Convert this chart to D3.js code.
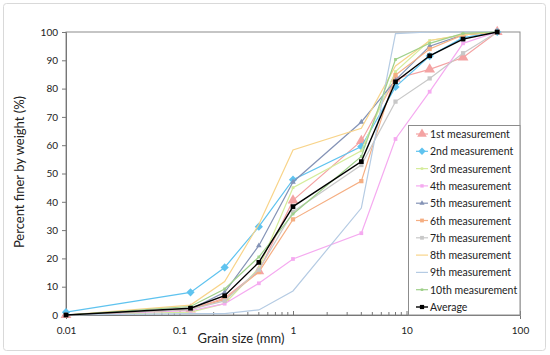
<!DOCTYPE html>
<html>
<head>
<meta charset="utf-8">
<script src="https://cdn.jsdelivr.net/npm/d3@7"></script>
<style>
  body { margin: 0; background: #fff; }
  text { font-family: Lato, "Open Sans", sans-serif; fill: #222; }
</style>
</head>
<body>
<svg width="550" height="355"></svg>
<script>
// sieve sizes (mm)
const sizes = [0.01, 0.125, 0.25, 0.5, 1, 4, 8, 16, 31.5, 63];

const names = ["1st measurement", "2nd measurement", "3rd measurement", "4th measurement",
  "5th measurement", "6th measurement", "7th measurement", "8th measurement",
  "9th measurement", "10th measurement", "Average"];

const m1  = [0, 2,   6,    15.5, 40.5, 61.5, 83.5, 86.8, 91,   100];
const m2  = [1, 8,   16.8, 31.2, 47.8, 59.5, 80.6, 91.5, 98,   100];
const m3  = [0, 1,   4,    16.5, 45,   58,   86,   97,   99,   100];
const m4  = [0, 1.5, 4,    11.2, 19.8, 28.9, 62.2, 78.9, 96,   100];
const m5  = [0, 2,   8,    24.5, 47,   68.2, 83,   95,   99,   100];
const m6  = [0, 2,   5.5,  15.2, 33.8, 47.3, 84.8, 94,   99,   100];
const m7  = [0, 2,   5,    16,   36.5, 53,   75.4, 83.6, 92.5, 100];
const m8  = [0, 3.5, 11.8, 32,   58.3, 66,   88,   97,   99,   100];
const m9  = [0, 0.5, 0.5,  1.8,  8.5,  37.8, 99.4, 100,  100,  100];
const m10 = [0, 3,   9.2,  20.5, 35.7, 56,   90.3, 96,   99.5, 100];
const avg = [0, 2.4, 6.8,  18.6, 38.3, 54.2, 82.4, 91.6, 97.5, 100];

const values = [m1, m2, m3, m4, m5, m6, m7, m8, m9, m10, avg];
const colors = ["#f4a3a3", "#5fc3ef", "#d5ec9b", "#f5aaf0", "#8493b6", "#f5ae82",
  "#c8c8c8", "#f8d48a", "#b5cbe3", "#9fd08a", "#000000"];
// symbol, size, rotation
const marks = [
  [d3.symbolTriangle, 50, 0], [d3.symbolSquare, 34, 45], [d3.symbolSquare, 8, 0],
  [d3.symbolSquare, 14, 0], [d3.symbolTriangle, 14, 0], [d3.symbolSquare, 18, 0],
  [d3.symbolSquare, 18, 0], [null, 0, 0], [null, 0, 0], [d3.symbolSquare, 8, 0],
  [d3.symbolSquare, 22, 0]];

const yTicks = d3.range(0, 101, 10);
const xTicks = [0.01, 0.1, 1, 10, 100];

const svg = d3.select("svg");
const margin = {left: 66, top: 32, right: 30, bottom: 40};
const W = 550, H = 355;

svg.append("rect")
  .attr("x", 3.5).attr("y", 3.5).attr("width", 542).attr("height", 347)
  .attr("rx", 3).attr("fill", "#fff").attr("stroke", "#d9d9d9");

const x = d3.scaleLog().domain([0.01, 100]).range([margin.left, W - margin.right]);
const y = d3.scaleLinear().domain([0, 100]).range([H - margin.bottom, margin.top]);

// plot box
svg.append("rect")
  .attr("x", x(0.01)).attr("y", y(100))
  .attr("width", x(100) - x(0.01)).attr("height", y(0) - y(100))
  .attr("fill", "none").attr("stroke", "#8c8c8c");

// y axis
svg.append("g")
  .attr("transform", `translate(${x(0.01)},0)`)
  .call(d3.axisLeft(y).tickValues(yTicks).tickSize(4).tickPadding(4))
  .call(g => g.select(".domain").attr("stroke", "#777"))
  .call(g => g.selectAll(".tick line").attr("stroke", "#777"))
  .call(g => g.selectAll("text").attr("font-size", 10).attr("font-family", "Lato, sans-serif"));

// x axis with minor ticks
const minor = [];
for (let d = 0.01; d < 100; d *= 10) for (let k = 2; k < 10; k++) minor.push(d * k);
svg.append("g")
  .attr("transform", `translate(0,${y(0)})`)
  .selectAll("line").data(minor).join("line")
  .attr("x1", d => x(d)).attr("x2", d => x(d))
  .attr("y1", 0).attr("y2", -3).attr("stroke", "#777");

svg.append("g")
  .attr("transform", `translate(0,${y(0)})`)
  .call(d3.axisBottom(x).tickValues(xTicks).tickFormat(d3.format("~g")).tickSize(4).tickPadding(8))
  .call(g => g.select(".domain").attr("stroke", "#777"))
  .call(g => g.selectAll(".tick line").attr("y2", -4).attr("stroke", "#777"))
  .call(g => g.selectAll("text").attr("font-size", 10).attr("font-family", "Lato, sans-serif"));

// axis titles
svg.append("text")
  .attr("x", 241).attr("y", 343).attr("text-anchor", "middle")
  .attr("font-size", 13).text("Grain size (mm)");
svg.append("text")
  .attr("transform", "translate(24,172) rotate(-90)").attr("text-anchor", "middle")
  .attr("font-size", 13).text("Percent finer by weight (%)");

const line = d3.line().x((d, i) => x(sizes[i])).y(d => y(d));

// series, average drawn last
values.forEach((vals, s) => {
  const g = svg.append("g");
  g.append("path").datum(vals)
    .attr("d", line).attr("fill", "none")
    .attr("stroke", colors[s]).attr("stroke-width", s === 10 ? 1.4 : 1.2);
  if (marks[s][0]) {
    g.selectAll("path.pt").data(vals).join("path").attr("class", "pt")
      .attr("transform", (d, i) => `translate(${x(sizes[i])},${y(d)}) rotate(${marks[s][2]})`)
      .attr("d", d3.symbol(marks[s][0], marks[s][1]))
      .attr("fill", colors[s]);
  }
});

// legend
const lg = svg.append("g");
lg.append("rect")
  .attr("x", 408.5).attr("y", 125.5).attr("width", x(100) - 408.5).attr("height", y(0) - 125.5)
  .attr("fill", "#fff").attr("stroke", "#8c8c8c");
names.forEach((n, s) => {
  const ly = 134 + s * 17.3;
  lg.append("line").attr("x1", 416).attr("x2", 428).attr("y1", ly).attr("y2", ly)
    .attr("stroke", colors[s]).attr("stroke-width", s === 10 ? 1.4 : 1.2);
  if (marks[s][0]) {
    lg.append("path").attr("transform", `translate(422,${ly}) rotate(${marks[s][2]})`)
      .attr("d", d3.symbol(marks[s][0], marks[s][1] * 0.8)).attr("fill", colors[s]);
  }
  lg.append("text").attr("x", 430).attr("y", ly + 4)
    .attr("font-size", 10.5).text(n);
});
</script>
</body>
</html>
